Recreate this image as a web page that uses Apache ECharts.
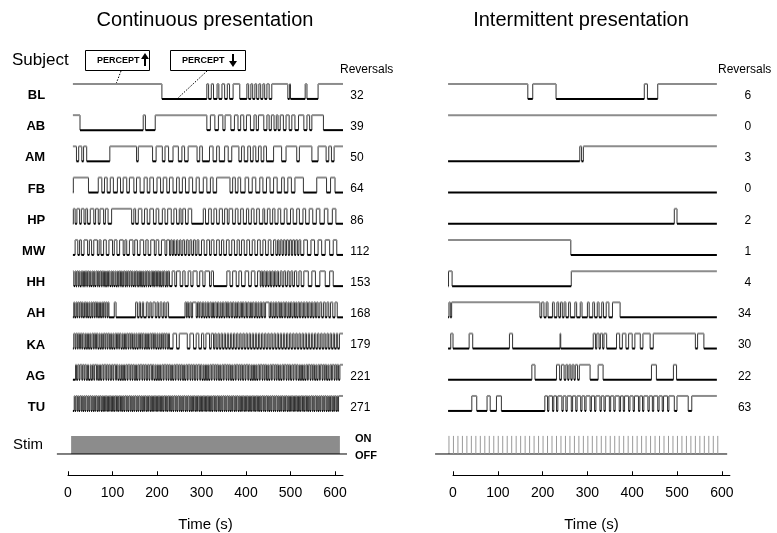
<!DOCTYPE html>
<html>
<head>
<meta charset="utf-8">
<script src="https://cdn.jsdelivr.net/npm/echarts@6/dist/echarts.min.js"></script>
<style>
  html, body { margin: 0; padding: 0; background: #fff; }
  #chart { width: 777px; height: 533px; }
</style>
</head>
<body>
<div id="chart"></div>
<script>
// ---- data ----
const SUBJECTS = ['BL', 'AB', 'AM', 'FB', 'HP', 'MW', 'HH', 'AH', 'KA', 'AG', 'TU'];
const REV_CONT = [32, 39, 50, 64, 86, 112, 153, 168, 179, 221, 271];
const REV_INT = [6, 0, 3, 0, 2, 1, 4, 34, 30, 22, 63];
const X_TICKS = [0, 100, 200, 300, 400, 500, 600];

// trace extent (s) and starting percept (1 = up, 0 = down)
const CONT_SPAN = [11, 618];
const INT_SPAN = [-11, 589];
const CONT_INIT = [1, 1, 1, 0, 0, 0, 1, 0, 0, 0, 0];
const INT_INIT = [1, 1, 0, 0, 0, 1, 0, 0, 0, 0, 0];

// switch times (s), continuous presentation
const contBL = [211, 312, 316, 322, 327, 335, 339, 346, 352, 358, 363, 371, 386, 402, 406, 411, 415, 420, 424, 429, 433, 438, 442, 447, 452, 458, 494, 498, 500, 533, 537, 562];
const contAB = [27, 169, 174, 196, 312, 320, 330, 338, 348, 353, 366, 374, 382, 388, 395, 401, 410, 418, 423, 428, 440, 447, 452, 457, 463, 468, 472, 477, 484, 490, 497, 503, 510, 518, 530, 537, 543, 548, 574];
const contAM = [19, 24, 31, 35, 42, 94, 154, 158, 190, 198, 212, 218, 226, 236, 248, 256, 262, 270, 290, 296, 302, 318, 326, 334, 340, 352, 360, 368, 384, 390, 396, 404, 410, 416, 422, 428, 434, 440, 446, 462, 480, 490, 514, 520, 548, 562, 580, 586, 592, 598];
const contFB = [12, 46, 68, 76, 82, 88, 95, 102, 111, 118, 124, 132, 138, 148, 154, 162, 171, 178, 184, 192, 200, 208, 214, 222, 228, 236, 244, 250, 257, 264, 272, 280, 288, 295, 304, 312, 320, 326, 334, 364, 370, 376, 382, 388, 398, 406, 414, 422, 431, 438, 446, 454, 462, 470, 480, 486, 494, 502, 510, 529, 559, 581, 590, 600];
const contHP = [12, 16, 20, 26, 30, 36, 40, 44, 50, 58, 62, 68, 72, 80, 84, 90, 98, 143, 148, 152, 158, 166, 172, 178, 184, 192, 198, 204, 212, 218, 224, 232, 238, 244, 250, 254, 258, 264, 270, 278, 304, 309, 316, 322, 328, 334, 340, 347, 352, 358, 362, 370, 376, 382, 388, 394, 401, 406, 412, 418, 424, 430, 438, 442, 448, 454, 460, 465, 472, 478, 486, 492, 500, 506, 514, 520, 528, 534, 542, 550, 558, 566, 576, 584, 594, 602];
const contMW = [16, 22, 26, 30, 36, 44, 48, 53, 58, 66, 70, 74, 80, 86, 92, 100, 104, 110, 116, 124, 128, 132, 138, 146, 150, 156, 162, 170, 175, 180, 186, 194, 198, 204, 210, 218, 222, 228, 231, 234, 237, 240, 244, 247, 251, 254, 258, 262, 266, 270, 274, 278, 282, 286, 290, 294, 300, 306, 312, 318, 322, 328, 334, 340, 345, 350, 356, 362, 368, 374, 380, 385, 390, 396, 402, 408, 414, 420, 426, 432, 438, 444, 450, 456, 462, 467, 471, 474, 477, 481, 484, 488, 491, 495, 498, 502, 505, 509, 512, 516, 519, 523, 530, 538, 546, 554, 562, 570, 578, 588, 596, 604];
const contHH = [13, 16, 18, 20, 23, 25, 27, 30, 33, 35, 37, 39, 42, 44, 47, 49, 51, 54, 56, 58, 60, 63, 66, 68, 70, 72, 75, 77, 80, 82, 84, 87, 89, 91, 94, 97, 99, 101, 103, 106, 108, 111, 113, 115, 118, 120, 122, 125, 128, 130, 132, 134, 137, 139, 142, 144, 146, 149, 151, 153, 156, 159, 161, 163, 165, 168, 170, 173, 175, 177, 180, 182, 184, 187, 190, 192, 194, 196, 199, 201, 204, 206, 208, 211, 213, 215, 218, 221, 223, 225, 228,
  234, 240, 244, 252, 258, 263, 270, 276, 281, 290, 296, 303, 308, 318, 322, 327, 357,
  364, 370, 378, 384, 390, 398, 406, 412, 420, 426, 432,
  434, 437, 440, 443, 446, 449, 452, 455, 458, 461, 464, 467, 470, 473, 477, 481, 485, 489, 493, 497, 501, 505, 509, 514, 519, 524,
  530, 540, 548, 556, 566, 578, 588, 596];
const contAH = [13, 15, 18, 20, 22, 25, 27, 30, 32, 34, 37, 40, 42, 44, 47, 49, 52, 54, 56, 59, 61, 64, 66, 68, 71, 73, 76, 78, 80, 83, 85, 88, 90, 92,
  104, 108, 152,
  156, 160, 163, 167, 170, 176, 180, 184, 187, 191, 196, 200, 203, 207, 211, 215, 218, 222, 226,
  263, 266, 268, 271, 274, 277, 280, 288, 291, 294, 296, 299, 302, 305, 308, 310, 313, 316, 319, 322, 325, 327, 330, 333, 336, 339, 342, 344, 347, 350, 353, 356, 358, 361, 364, 367, 370, 373, 376, 378, 381, 384, 387, 390, 392, 395, 398, 401, 404, 407, 410, 412, 415, 418, 421, 424, 427, 429, 432, 435, 438, 441, 444, 452, 455, 458, 461, 463, 466, 469, 472, 475, 478, 480, 483, 486, 489, 492, 495, 497, 500, 503, 506, 509, 512, 514, 517, 520, 523, 526, 529, 532, 535, 538, 541, 544, 547, 550, 553, 556, 559, 562, 566, 570, 574, 578, 582, 586, 590, 595, 600, 605];
const contKA = [13, 16, 18, 21, 23, 26, 28, 31, 33, 36, 39, 41, 44, 46, 49, 51, 54, 57, 59, 62, 64, 67, 70, 72, 75, 77, 80, 83, 85, 88, 90, 93, 96, 98, 101, 103, 106, 109, 111, 114, 116, 119, 122, 124, 127, 129, 132, 135, 137, 140, 142, 145, 148, 150, 153, 155, 158, 161, 163, 166, 168, 171, 174, 176, 179, 181, 184, 187, 189, 192, 194, 197, 200, 202, 205, 207, 210, 213, 215, 218, 220, 223, 226, 228,
  236, 244, 250, 268, 274, 282, 288, 294, 300, 305, 310, 318, 322, 327,
  330, 333, 337, 340, 344, 347, 351, 354, 358, 361, 365, 368, 372, 375, 379, 382, 386, 389, 393, 396, 400, 403, 407, 410, 414, 417, 421, 424, 428, 431, 435, 438, 442, 445, 449, 452, 456, 459, 463, 466, 470, 473, 477, 480, 484, 487, 491, 494, 498, 501, 505, 508, 512, 515, 519, 522, 526, 529, 533, 536, 540, 543, 547, 550, 554, 557, 561, 564, 568, 571, 575, 578, 582, 585, 589, 592, 596, 599, 603, 606, 610];
const contAG = [17, 19, 22, 25, 27, 31, 33, 36, 38, 41, 44, 46, 50, 52, 55, 58, 60, 64, 66, 68, 71, 73, 76, 79, 81, 85, 87, 90, 92, 95, 98, 101, 103, 107, 109, 112, 115, 117, 120, 122, 125, 127, 130, 133, 135, 139, 141, 144, 146, 149, 152, 154, 157, 160, 162, 166, 168, 171, 173, 176, 179, 182, 184, 188, 190, 193, 196, 198, 201, 203, 206, 208, 211, 214, 216, 220, 222, 225, 227, 230, 233, 235, 238, 241, 243, 247, 249, 252, 254, 257, 260, 262, 265, 268, 270, 274, 276, 279, 281, 284, 287, 290, 292, 296, 298, 301, 304, 306, 309, 311, 314, 316, 319, 322, 324, 328, 330, 333, 335, 338, 341, 343, 346, 349, 351, 355, 357, 360, 362, 365, 368, 370, 373, 376, 378, 382, 384, 387, 389, 392, 395, 398, 400, 404, 406, 409, 412, 414, 417, 419, 422, 424, 427, 430, 432, 436, 438, 441, 443, 446, 449, 451, 454, 457, 459, 463, 465, 468, 470, 473, 476, 478, 481, 484, 486, 490, 492, 495, 497, 500, 503, 506, 508, 512, 514, 517, 520, 522, 525, 527, 530, 532, 535, 538, 540, 544, 546, 549, 551, 554, 557, 559, 562, 565, 567, 571, 573, 576, 578, 581, 584, 586, 589, 592, 594, 598, 600, 603, 605, 608, 611];
const contTU = [14, 16, 18, 21, 23, 25, 27, 30, 32, 34, 36, 38, 40, 43, 45, 47, 49, 52, 54, 56, 58, 60, 62, 65, 67, 69, 71, 74, 76, 78, 80, 82, 84, 87, 89, 91, 93, 96, 98, 100, 102, 104, 106, 109, 111, 113, 115, 118, 120, 122, 124, 126, 128, 131, 133, 135, 137, 140, 142, 144, 146, 148, 150, 153, 155, 157, 159, 162, 164, 166, 168, 170, 172, 175, 177, 179, 181, 184, 186, 188, 190, 192, 194, 197, 199, 201, 203, 206, 208, 210, 212, 214, 216, 219, 221, 223, 225, 228, 230, 232, 234, 236, 238, 241, 243, 245, 247, 250, 252, 254, 256, 258, 260, 263, 265, 267, 269, 272, 274, 276, 278, 280, 282, 285, 287, 289, 291, 294, 296, 298, 300, 302, 304, 307, 309, 311, 313, 316, 318, 320, 322, 324, 326, 329, 331, 333, 335, 338, 340, 342, 344, 346, 348, 351, 353, 355, 357, 360, 362, 364, 366, 368, 370, 373, 375, 377, 379, 382, 384, 386, 388, 390, 392, 395, 397, 399, 401, 404, 406, 408, 410, 412, 414, 417, 419, 421, 423, 426, 428, 430, 432, 434, 436, 439, 441, 443, 445, 448, 450, 452, 454, 456, 458, 461, 463, 465, 467, 470, 472, 474, 476, 478, 480, 483, 485, 487, 489, 492, 494, 496, 498, 500, 502, 505, 507, 509, 511, 514, 516, 518, 520, 522, 524, 527, 529, 531, 533, 536, 538, 540, 542, 544, 546, 549, 551, 553, 555, 558, 560, 562, 564, 566, 568, 571, 573, 575, 577, 580, 582, 584, 586, 588, 590, 593, 595, 597, 599, 602, 604, 606, 608];

// switch times (s), intermittent presentation
const intBL = [167, 178, 230, 427, 434, 457];
const intAB = [];
const intAM = [283, 287, 291];
const intFB = [];
const intHP = [494, 500];
const intMW = [263];
const intHH = [-10, -2, 264];
const intAH = [-9, -6, -3, 194, 198, 203, 208, 212, 222, 226, 232, 236, 240, 244, 248, 252, 258, 262, 272, 276, 284, 288, 300, 304, 312, 316, 322, 326, 332, 336, 342, 348, 356, 373];
const intKA = [-5, 0, 36, 44, 126, 133, 239, 240.5, 313, 318, 321, 326, 329, 334, 337, 343, 365, 372, 378, 386, 392, 400, 406, 418, 424, 440, 447, 541, 546, 560];
const intAG = [176, 183, 231, 238, 242, 248, 252, 256, 259, 263, 266, 270, 273, 278, 282, 306, 324, 335, 443, 454, 492, 499];
const intTU = [42, 53, 76, 83, 97, 108, 205, 211, 214, 222, 225, 231, 234, 243, 246, 252, 255, 264, 267, 274, 277, 285, 288, 294, 297, 306, 309, 316, 319, 328, 331, 337, 340, 349, 352, 359, 362, 371, 374, 380, 383, 392, 395, 402, 405, 414, 417, 423, 426, 435, 438, 445, 448, 457, 460, 467, 470, 479, 482, 494, 500, 525, 533];

// stimulus
const STIM_CONT = [[7, 611]];
const STIM_INT = [-9, 1, 11, 21, 31, 41, 51, 61, 71, 81, 91, 101, 111, 121, 131, 141, 151, 161, 171, 181, 191, 201, 211, 221, 231, 241, 251, 261, 271, 281, 291, 301, 311, 321, 331, 341, 351, 361, 371, 381, 391, 401, 411, 421, 431, 441, 451, 461, 471, 481, 491, 501, 511, 521, 531, 541, 551, 561, 571, 581, 591];

const CONT_SW = [contBL, contAB, contAM, contFB, contHP, contMW, contHH, contAH, contKA, contAG, contTU];
const INT_SW = [intBL, intAB, intAM, intFB, intHP, intMW, intHH, intAH, intKA, intAG, intTU];

// ---- layout ----
const FONT = 'Liberation Sans, Arial, Helvetica, sans-serif';
const UP_OFF = -0.37, DOWN_OFF = 0.11;      // trace levels relative to row centre
const STIM_TOP = 10.91, STIM_BASE = 11.49;
const ROW_IDX = SUBJECTS.map((s, i) => i);

function buildSegments(inits, switches, span) {
  const out = [];
  switches.forEach((sw, row) => {
    let st = inits[row], t = span[0];
    sw.forEach(s => {
      out.push([t, s, st, row, 0]);
      st = 1 - st;
      t = s;
    });
    out.push([t, span[1], st, row, 1]);
  });
  return out;
}

function renderTrace(params, api) {
  const t0 = api.value(0), t1 = api.value(1), st = api.value(2), row = api.value(3), last = api.value(4);
  const yUp = row + UP_OFF, yDn = row + DOWN_OFF;
  const y = st ? yUp : yDn;
  const a = api.coord([t0, y]), b = api.coord([t1, y]);
  const children = [];
  if (!last) {
    const top = api.coord([t1, yUp]), bot = api.coord([t1, yDn]);
    children.push({ type: 'line', shape: { x1: top[0], y1: top[1], x2: bot[0], y2: bot[1] },
      style: { stroke: '#333', lineWidth: 1 } });
  }
  children.push({ type: 'line', shape: { x1: a[0], y1: a[1], x2: b[0], y2: b[1] },
    style: { stroke: st ? '#8c8c8c' : '#000', lineWidth: 2 } });
  return { type: 'group', children: children };
}

function baseLine(api, from, to) {
  const a = api.coord([from, STIM_BASE]), b = api.coord([to, STIM_BASE]);
  return { type: 'line', shape: { x1: a[0], y1: a[1], x2: b[0], y2: b[1] }, style: { stroke: '#000', lineWidth: 1 } };
}

const chart = echarts.init(document.getElementById('chart'));

const timeAxis = (grid) => ({
  gridIndex: grid, type: 'value', min: 0, max: 618,
  axisLine: { lineStyle: { color: '#000', width: 1 } },
  axisTick: { inside: true, length: 4, customValues: X_TICKS, lineStyle: { color: '#000' } },
  axisLabel: { customValues: X_TICKS, fontSize: 14, color: '#000', margin: 11, fontFamily: FONT },
  splitLine: { show: false },
  name: 'Time (s)', nameLocation: 'middle', nameGap: 42,
  nameTextStyle: { fontSize: 15, color: '#000', fontFamily: FONT }
});
const hiddenX = (grid) => ({ gridIndex: grid, type: 'value', min: -40, max: 630, show: false });
const rowAxis = (grid, pos, labels, extra) => ({
  gridIndex: grid, type: 'value', min: -2, max: 12, inverse: true, position: pos,
  axisLine: { show: false }, axisTick: { show: false }, splitLine: { show: false },
  axisLabel: Object.assign({ customValues: ROW_IDX, formatter: v => labels[Math.round(v)],
    color: '#000', fontFamily: FONT }, extra)
});

const option = {
  animation: false,
  textStyle: { fontFamily: FONT },
  grid: [
    { left: 50.2, width: 298.15, top: 33.1, height: 436.8 },
    { left: 68, width: 275, top: 475, height: 1 },
    { left: 435.08, width: 300.16, top: 33.1, height: 436.8 },
    { left: 453, width: 276.9, top: 475, height: 1 }
  ],
  xAxis: [hiddenX(0), timeAxis(1), hiddenX(2), timeAxis(3)],
  yAxis: [
    rowAxis(0, 'left', SUBJECTS, { fontWeight: 'bold', fontSize: 13, margin: 5 }),
    rowAxis(0, 'right', REV_CONT, { fontSize: 12, margin: 2, align: 'left' }),
    { gridIndex: 1, type: 'value', min: 0, max: 1, show: false },
    rowAxis(2, 'left', SUBJECTS, { show: false }),
    rowAxis(2, 'right', REV_INT, { fontSize: 12, margin: 16, align: 'right' }),
    { gridIndex: 3, type: 'value', min: 0, max: 1, show: false }
  ],
  series: [
    {
      type: 'custom', xAxisIndex: 0, yAxisIndex: 0, silent: true,
      data: buildSegments(CONT_INIT, CONT_SW, CONT_SPAN), renderItem: renderTrace
    },
    {
      type: 'custom', xAxisIndex: 2, yAxisIndex: 3, silent: true,
      data: buildSegments(INT_INIT, INT_SW, INT_SPAN), renderItem: renderTrace
    },
    {
      type: 'custom', xAxisIndex: 0, yAxisIndex: 0, silent: true,
      data: STIM_CONT,
      renderItem: function (params, api) {
        const a = api.coord([api.value(0), STIM_TOP]), b = api.coord([api.value(1), STIM_BASE]);
        return { type: 'group', children: [
          { type: 'rect', shape: { x: a[0], y: a[1], width: b[0] - a[0], height: b[1] - a[1] }, style: { fill: '#8c8c8c' } },
          baseLine(api, -25, 627)
        ] };
      }
    },
    {
      type: 'custom', xAxisIndex: 2, yAxisIndex: 3, silent: true,
      data: STIM_INT.map(t => [t]),
      renderItem: function (params, api) {
        const a = api.coord([api.value(0), STIM_TOP]), b = api.coord([api.value(0), STIM_BASE]);
        const kids = [{ type: 'line', shape: { x1: a[0], y1: a[1], x2: b[0], y2: b[1] }, style: { stroke: '#999', lineWidth: 1 } }];
        if (params.dataIndex === 0) kids.push(baseLine(api, -40, 612));
        return { type: 'group', children: kids };
      }
    }
  ],
  graphic: [
    { type: 'text', x: 205, y: 20, style: { text: 'Continuous presentation', fontSize: 20, fontFamily: FONT, fill: '#000', align: 'center', verticalAlign: 'middle' } },
    { type: 'text', x: 581, y: 20, style: { text: 'Intermittent presentation', fontSize: 20, fontFamily: FONT, fill: '#000', align: 'center', verticalAlign: 'middle' } },
    { type: 'text', x: 12, y: 60, style: { text: 'Subject', fontSize: 17, fontFamily: FONT, fill: '#000', align: 'left', verticalAlign: 'middle' } },
    { type: 'text', x: 340, y: 70, style: { text: 'Reversals', fontSize: 12, fontFamily: FONT, fill: '#000', align: 'left', verticalAlign: 'middle' } },
    { type: 'text', x: 718, y: 70, style: { text: 'Reversals', fontSize: 12, fontFamily: FONT, fill: '#000', align: 'left', verticalAlign: 'middle' } },
    { type: 'text', x: 13, y: 445, style: { text: 'Stim', fontSize: 15, fontFamily: FONT, fill: '#000', align: 'left', verticalAlign: 'middle' } },
    { type: 'text', x: 355, y: 439, style: { text: 'ON', fontSize: 11, fontWeight: 'bold', fontFamily: FONT, fill: '#000', align: 'left', verticalAlign: 'middle' } },
    { type: 'text', x: 355, y: 456, style: { text: 'OFF', fontSize: 11, fontWeight: 'bold', fontFamily: FONT, fill: '#000', align: 'left', verticalAlign: 'middle' } },
    // percept legend boxes
    { type: 'rect', shape: { x: 85.5, y: 50.5, width: 64, height: 20 }, style: { fill: '#fff', stroke: '#000', lineWidth: 1 } },
    { type: 'text', x: 97, y: 61, style: { text: 'PERCEPT', fontSize: 9, fontWeight: 'bold', fontFamily: FONT, fill: '#000', align: 'left', verticalAlign: 'middle' } },
    { type: 'polygon', shape: { points: [[141, 59], [149, 59], [145, 53]] }, style: { fill: '#000' } },
    { type: 'line', shape: { x1: 145, y1: 58, x2: 145, y2: 66 }, style: { stroke: '#000', lineWidth: 2 } },
    { type: 'rect', shape: { x: 170.5, y: 50.5, width: 75, height: 20 }, style: { fill: '#fff', stroke: '#000', lineWidth: 1 } },
    { type: 'text', x: 182, y: 61, style: { text: 'PERCEPT', fontSize: 9, fontWeight: 'bold', fontFamily: FONT, fill: '#000', align: 'left', verticalAlign: 'middle' } },
    { type: 'line', shape: { x1: 233, y1: 54, x2: 233, y2: 62 }, style: { stroke: '#000', lineWidth: 2 } },
    { type: 'polygon', shape: { points: [[229, 61], [237, 61], [233, 67]] }, style: { fill: '#000' } },
    { type: 'line', shape: { x1: 121, y1: 71, x2: 116, y2: 84 }, style: { stroke: '#000', lineWidth: 1, lineDash: [1.5, 1.5] } },
    { type: 'line', shape: { x1: 207, y1: 71, x2: 178, y2: 98 }, style: { stroke: '#000', lineWidth: 1, lineDash: [1.5, 1.5] } }
  ]
};

chart.setOption(option);
</script>
</body>
</html>
